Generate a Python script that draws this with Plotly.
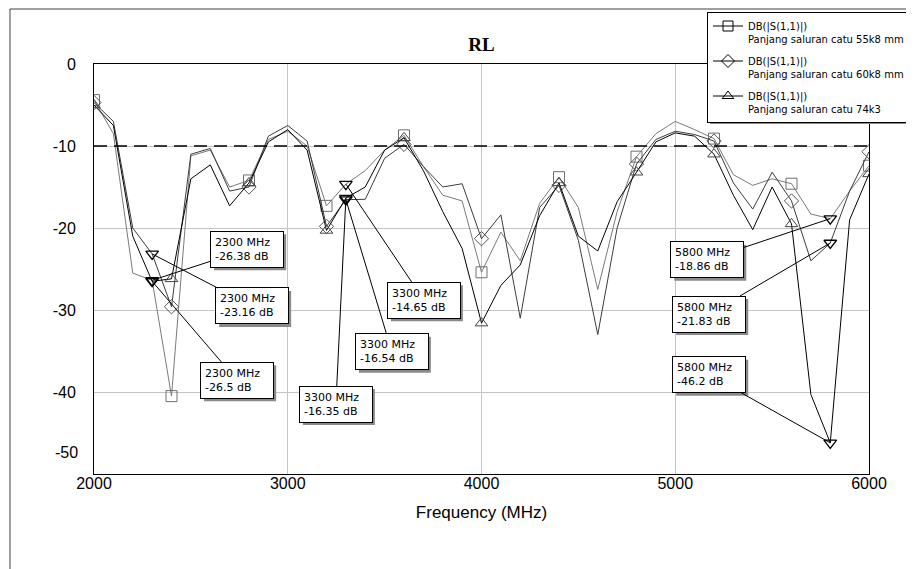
import plotly.graph_objects as go

# ---------------- data ----------------
freq = list(range(2000, 6001, 100))

s55k8 = [-4.4, -8.5, -25.5, -26.38, -40.5, -11.2, -10.5, -15.0, -14.2, -9.2,
         -8.2, -10.0, -17.3, -14.65, -13.0, -10.5, -8.7, -12.5, -16.0, -16.7,
         -25.4, -20.5, -24.0, -17.0, -13.8, -17.5, -27.5, -18.0, -11.3, -8.5,
         -7.0, -8.0, -9.1, -13.5, -14.8, -14.0, -14.6, -18.3, -18.86, -15.5,
         -12.4]
s60k8 = [-4.7, -7.0, -20.0, -23.16, -29.6, -11.0, -10.3, -15.5, -15.0, -8.8,
         -7.5, -9.4, -19.8, -16.54, -16.5, -11.5, -9.8, -12.5, -15.0, -14.6,
         -21.3, -18.4, -31.0, -17.5, -14.8, -21.5, -33.0, -20.0, -12.2, -9.2,
         -8.2, -8.6, -9.4, -14.5, -17.7, -13.2, -16.7, -24.0, -21.83, -15.5,
         -10.7]
s74k3 = [-5.0, -7.5, -21.0, -26.5, -26.2, -14.0, -12.3, -17.3, -14.5, -9.5,
         -8.0, -10.5, -20.3, -16.35, -15.0, -10.5, -9.0, -13.0, -18.0, -22.5,
         -31.6, -27.0, -24.5, -18.5, -14.5, -21.0, -22.8, -16.8, -13.2, -9.5,
         -8.4, -8.8, -11.0, -16.0, -20.2, -15.0, -19.5, -40.3, -46.2, -19.0,
         -13.4]

series_values = [s55k8, s60k8, s74k3]
series_names = [
    "DB(|S(1,1)|)<br>Panjang saluran catu 55k8 mm",
    "DB(|S(1,1)|)<br>Panjang saluran catu 60k8 mm",
    "DB(|S(1,1)|)<br>Panjang saluran catu 74k3",
]
marker_freqs = [2300, 3300, 5800]
threshold = -10

x_ticks = [2000, 3000, 4000, 5000, 6000]
y_ticks = [0, -10, -20, -30, -40, -50]

# ---------------- styles ----------------
symbols = ["square-open", "diamond-open", "triangle-up-open"]
line_colors = ["#7a7a7a", "#3c3c3c", "#000000"]
marker_colors = ["#6e6e6e", "#555555", "#444444"]

# label box offsets (px) from the marked point, per (series, marker freq)
label_offsets = {
    (0, 2300): (95, -31), (1, 2300): (100, 52), (2, 2300): (85, 99),
    (2, 3300): (-10, 206), (1, 3300): (46, 152), (0, 3300): (78, 116),
    (0, 5800): (-123, 41), (1, 5800): (-121, 71), (2, 5800): (-121, -68),
}
BOX_W, BOX_H = 72, 36

# page has an 8px body margin: figure starts at (8, 8) on screen
OFF = 8
PL, PR, PT, PB = 94, 869, 64, 474   # plot area in screen px


def px_x(px):
    return (px - PL) / (PR - PL)


def px_y(py):
    return (PB - py) / (PB - PT)


fig = go.Figure()

for i, vals in enumerate(series_values):
    fig.add_trace(go.Scatter(
        x=freq, y=vals, mode="lines",
        line=dict(color=line_colors[i], width=1),
        showlegend=False, hoverinfo="skip"))
    fig.add_trace(go.Scatter(
        x=freq[::4], y=vals[::4], mode="markers",
        marker=dict(symbol=symbols[i], size=11, color=marker_colors[i],
                    line=dict(width=1, color=marker_colors[i])),
        showlegend=False, hoverinfo="skip"))

# legend-only entries
for i in range(3):
    fig.add_trace(go.Scatter(
        x=[None], y=[None], mode="lines+markers", name=series_names[i],
        legendgroup=f"g{i}",
        line=dict(color="#000000", width=1),
        marker=dict(symbol=symbols[i], size=10, color="#000000",
                    line=dict(width=1, color="#000000"))))

# marked points (triangle-down)
mx, my = [], []
for f in marker_freqs:
    idx = freq.index(f)
    for vals in series_values:
        mx.append(f)
        my.append(vals[idx])
fig.add_trace(go.Scatter(
    x=mx, y=my, mode="markers", showlegend=False, hoverinfo="skip",
    marker=dict(symbol="triangle-down-open", size=11, color="#000000",
                line=dict(width=1.3, color="#000000"))))

annotations = []
shapes = [
    dict(type="line", xref="paper", yref="y", x0=0, x1=1,
         y0=threshold, y1=threshold,
         line=dict(color="#000000", width=1.6, dash="13px,7px")),
    # outer frame
    dict(type="rect", xref="paper", yref="paper",
         x0=px_x(10), x1=1.2, y0=-0.5, y1=px_y(9),
         line=dict(color="#404040", width=1), fillcolor="rgba(0,0,0,0)"),
    # legend shadow
    dict(type="rect", xref="paper", yref="paper",
         x0=px_x(710), x1=px_x(912), y0=px_y(124), y1=px_y(16),
         line=dict(width=0), fillcolor="#8a8a8a"),
]

for (si, f), (ax, ay) in label_offsets.items():
    v = series_values[si][freq.index(f)]
    txt = f"{f} MHz<br>{v:g} dB"
    shapes.append(dict(
        type="rect", xref="x", yref="y", xsizemode="pixel",
        ysizemode="pixel", xanchor=f, yanchor=v,
        x0=ax - BOX_W / 2 + 3, x1=ax + BOX_W / 2 + 3,
        y0=-(ay + BOX_H / 2 + 3), y1=-(ay - BOX_H / 2 + 3),
        line=dict(width=0), fillcolor="#8a8a8a"))
    annotations.append(dict(
        x=f, y=v, xref="x", yref="y", text=txt, showarrow=True,
        ax=ax, ay=ay, arrowhead=0, arrowwidth=1, arrowcolor="#000000",
        width=64, borderpad=4, align="left", bgcolor="#ffffff",
        bordercolor="#000000", borderwidth=1, standoff=0,
        font=dict(family="DejaVu Sans", size=11, color="#000000")))

# y tick labels with ASCII hyphen; the bottom one sits a little higher
y_ticktext = [str(v) for v in y_ticks[:-1]] + [""]
annotations.append(dict(
    x=px_x(PL - 14), y=px_y(452), xref="paper", yref="paper",
    text=str(y_ticks[-1]), showarrow=False, xanchor="right",
    yanchor="middle",
    font=dict(family="Liberation Sans", size=16, color="#000000")))

fig.update_layout(
    width=914 - OFF, height=569 - OFF,
    margin=dict(l=PL - OFF, r=914 - PR, t=PT - OFF, b=569 - PB,
                autoexpand=False),
    paper_bgcolor="#ffffff", plot_bgcolor="#ffffff",
    title=dict(text="<b>RL</b>", x=0.5, xref="paper", xanchor="center",
               y=1 - (44 - OFF) / (569 - OFF), yanchor="middle",
               font=dict(family="Liberation Serif", size=19, color="#000000")),
    xaxis=dict(range=[2000, 6000], tickvals=x_ticks, showgrid=True,
               gridcolor="#c4c4c4", gridwidth=1, zeroline=False,
               showline=True, linecolor="#000000", linewidth=1, mirror=True,
               ticks="", ticklabelstandoff=-5,
               tickfont=dict(family="Liberation Sans", size=16,
                             color="#000000"),
               title=dict(text="Frequency (MHz)", standoff=14,
                          font=dict(family="Liberation Sans", size=17,
                                    color="#000000"))),
    yaxis=dict(range=[-50, 0], tickvals=y_ticks, ticktext=y_ticktext,
               showgrid=True,
               gridcolor="#c4c4c4", gridwidth=1, zeroline=False,
               showline=True, linecolor="#000000", linewidth=1, mirror=True,
               ticks="", ticklabelstandoff=14,
               tickfont=dict(family="Liberation Sans", size=16,
                             color="#000000")),
    legend=dict(x=px_x(910), xanchor="right", y=px_y(12),
                yanchor="top", bgcolor="#ffffff", bordercolor="#000000",
                borderwidth=1, valign="top", itemwidth=30,
                tracegroupgap=6,
                font=dict(family="DejaVu Sans", size=10, color="#000000")),
    shapes=shapes,
    annotations=annotations,
    showlegend=True,
)

fig.write_html("out.html")
